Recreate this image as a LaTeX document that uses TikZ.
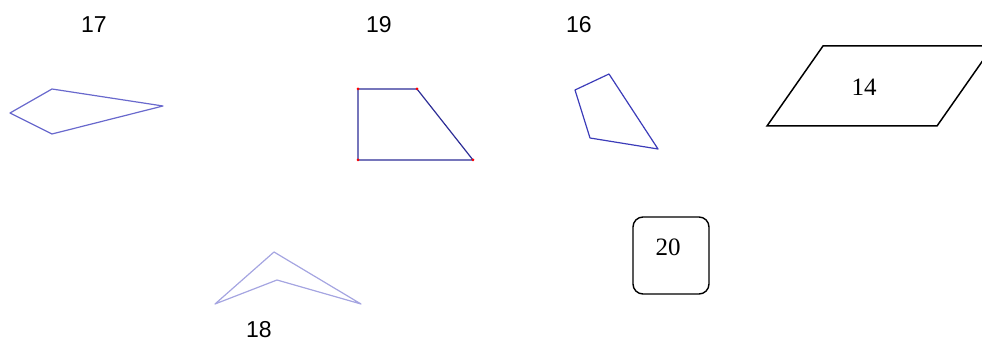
\documentclass[tikz,border=0pt]{standalone}
\usepackage{fontspec}
\setmainfont{Liberation Serif}
\newfontfamily\labelfont{Liberation Sans}
\usetikzlibrary{positioning}
\definecolor{kiteblue}{RGB}{105,105,205}
\definecolor{trapblue}{RGB}{45,45,150}
\definecolor{quadblue}{RGB}{60,60,185}
\definecolor{chevblue}{RGB}{165,165,225}
\tikzset{
    numlabel/.style={inner sep=0pt,font=\labelfont\fontsize{11.5}{13}\selectfont},
    boxlabel/.style={inner sep=0pt,font=\fontsize{12.5}{14}\selectfont},
    shapeline/.style={line width=0.6pt,line join=round},
    dot/.style={circle,fill=red,inner sep=0pt,minimum size=1.5pt}
}
\begin{document}
\begin{tikzpicture}[x=0.5pt,y=-0.5pt]
    \useasboundingbox (0,0) rectangle (982,341);
    \clip (0,0) rectangle (982,341);

    % numbers above/below the shapes
    \node[numlabel] (n17) at (94,25) {17};
    \node[numlabel] (n19) at (379,25) {19};
    \node[numlabel] (n16) at (579,25) {16};
    \node[numlabel] (n18) at (259,330) {18};

    % kite
    \draw[shapeline,kiteblue] (10,113) -- (52,89) -- (163,106) -- (52,134) -- cycle;

    % trapezoid
    \draw[shapeline,trapblue] (358,89) -- (417,89) -- (473,160) -- (358,160) -- cycle;
    \foreach \p in {(358,89),(417,89),(473,160),(358,160)}
        \node[dot] at \p {};

    % quadrilateral
    \draw[shapeline,quadblue] (575,90) -- (609,74) -- (658,149) -- (590,138) -- cycle;

    % chevron
    \draw[shapeline,chevblue] (215,304) -- (274,252) -- (361,304) -- (277,280) -- cycle;

    % parallelogram
    \draw[line width=0.75pt] (767,126) -- (823,46) -- (993,46) -- (937,126) -- cycle;
    \node[boxlabel] (n14) at (864,87) {14};

    % rounded box
    \node[draw,line width=0.7pt,rounded corners=5pt,minimum width=38pt,
          minimum height=38.5pt,inner sep=0pt] (n20) at (671,255.5) {};
    \node[boxlabel] (t20) at (668,247) {20};
\end{tikzpicture}
\end{document}
